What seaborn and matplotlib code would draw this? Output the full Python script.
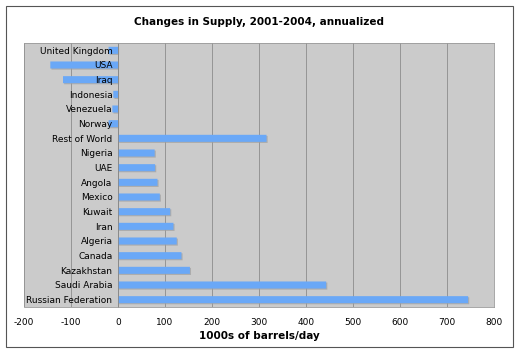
import matplotlib
matplotlib.use("Agg")
import matplotlib.pyplot as plt
import matplotlib.patheffects as pe
from matplotlib.patches import Rectangle
import seaborn as sns
import pandas as pd

countries = ["United Kingdom", "USA", "Iraq", "Indonesia", "Venezuela", "Norway",
             "Rest of World", "Nigeria", "UAE", "Angola", "Mexico", "Kuwait", "Iran",
             "Algeria", "Canada", "Kazakhstan", "Saudi Arabia", "Russian Federation"]
changes = [-20, -144, -117, -10, -12, -20,
           316, 78, 79, 84, 89, 111, 118,
           125, 135, 153, 443, 745]
xticks = [-200, -100, 0, 100, 200, 300, 400, 500, 600, 700, 800]

df = pd.DataFrame({"country": countries, "change": changes})

sns.set_style("white")
plt.rcParams["font.family"] = ["DejaVu Sans"]
plt.rcParams["text.color"] = "black"
plt.rcParams["axes.labelcolor"] = "black"

fig = plt.figure(figsize=(5.19, 3.57), dpi=100)
ax = fig.add_axes([24/519, 1 - 307/357, (494-24)/519, (307-43)/357])

sns.barplot(data=df, y="country", x="change", orient="h", ax=ax,
            color="#6aa8f7", saturation=1, width=0.48, order=countries)
for p in ax.patches:
    p.set_edgecolor("none")
    p.set_snap(False)
    p.set_path_effects([pe.SimplePatchShadow(offset=(0.8, -0.8), shadow_rgbFace="#a0a0a0", alpha=0.7), pe.Normal()])

ax.set_facecolor("#cbcbcb")
ax.set_xlim(-200, 800)
ax.set_xticks(xticks)
ax.set_xticklabels([str(t) for t in xticks], fontsize=6.5)
ax.tick_params(axis="x", length=0, pad=8, labelcolor="black")
ax.tick_params(axis="y", length=3, width=0.6, color="#888888", labelsize=6.5, pad=1, labelcolor="black")
ax.grid(axis="x", color="#8c8c8c", linewidth=0.6)
ax.set_axisbelow(True)
ax.yaxis.set_zorder(5)
ax.spines["left"].set_position(("data", 0))
ax.spines["left"].set_color("#888888")
ax.spines["left"].set_linewidth(0.6)
for s in ["top", "right", "bottom"]:
    ax.spines[s].set_color("#999999")
    ax.spines[s].set_linewidth(0.6)
ax.set_ylabel("")
ax.set_xlabel("1000s of barrels/day", fontsize=7.5, fontweight="bold", labelpad=3, color="black")
ax.set_title("Changes in Supply, 2001-2004, annualized", fontsize=7.5, fontweight="bold", pad=13, color="black")

fig.patches.append(Rectangle((6/519, 10/357), 507/519, 341/357, transform=fig.transFigure,
                             fill=False, edgecolor="#555555", linewidth=0.8))

fig.savefig("out.png", dpi=100)
